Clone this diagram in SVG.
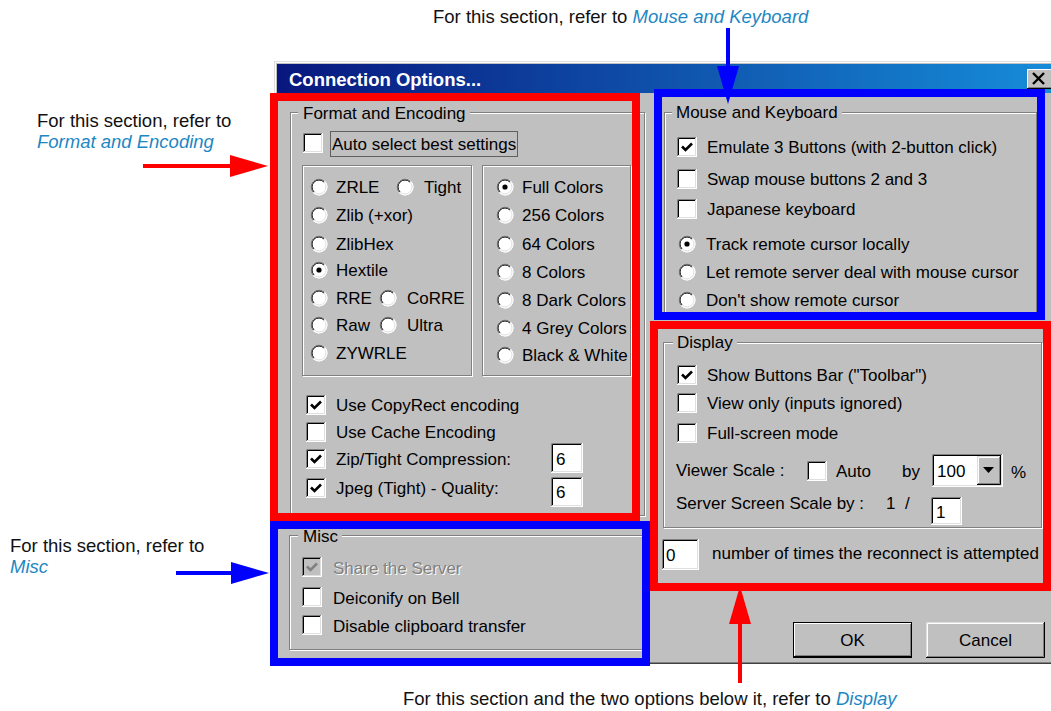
<svg xmlns="http://www.w3.org/2000/svg" width="1051" height="711" viewBox="0 0 1051 711">
<style>
.t{font-family:"Liberation Sans",Arial,sans-serif;font-size:17px;fill:#000}
.dis{fill:#808080}
.sh{fill:#fff}
.ann{font-family:"Liberation Sans",Arial,sans-serif;font-size:18.5px;fill:#111}
.lk{font-style:italic;fill:#1d87c3}
.ttl{font-family:"Liberation Sans",Arial,sans-serif;font-size:18.5px;font-weight:bold;fill:#fff}
.eg{fill:none;stroke:#808080}
.ew{fill:none;stroke:#fff}
.gap{fill:#c0c0c0}
.hr{fill:none;stroke:#f00;stroke-width:8}
.hb{fill:none;stroke:#00f;stroke-width:8}
.cr{fill:none;stroke:#f00;stroke-width:4}
.cbl{fill:none;stroke:#00f;stroke-width:4}
.ln{fill:none}
</style>
<defs>
<linearGradient id="tb" x1="0" y1="0" x2="1" y2="0">
<stop offset="0" stop-color="#08177e"/>
<stop offset="1" stop-color="#168cd8"/>
</linearGradient>
<marker id="mr" markerUnits="userSpaceOnUse" markerWidth="38" markerHeight="22" refX="8" refY="11" orient="auto"><path d="M0,0 L38,11 L0,22 z" fill="#f00"/></marker>
<marker id="mb" markerUnits="userSpaceOnUse" markerWidth="38" markerHeight="22" refX="8" refY="11" orient="auto"><path d="M0,0 L38,11 L0,22 z" fill="#00f"/></marker>
<g id="cb">
<rect width="20" height="20" fill="#fff"/>
<path d="M0.5,20 V0.5 H20" class="ln" stroke="#808080"/>
<path d="M1.5,19 V1.5 H19" class="ln" stroke="#000"/>
<path d="M0,19.5 H19.5 V0" class="ln" stroke="#fff"/>
<path d="M1,18.5 H18.5 V1" class="ln" stroke="#dfdfdf"/>
</g>
<g id="cbx">
<use href="#cb"/>
<path d="M5,9.5 L8.5,13 L15,6.5" fill="none" stroke="#000" stroke-width="2.6"/>
</g>
<g id="cbd">
<rect width="20" height="20" fill="#c0c0c0"/>
<path d="M0.5,20 V0.5 H20" class="ln" stroke="#808080"/>
<path d="M1.5,19 V1.5 H19" class="ln" stroke="#000"/>
<path d="M0,19.5 H19.5 V0" class="ln" stroke="#fff"/>
<path d="M1,18.5 H18.5 V1" class="ln" stroke="#dfdfdf"/>
<path d="M5,9.5 L8.5,13 L15,6.5" fill="none" stroke="#808080" stroke-width="2.6"/>
</g>
<g id="rb">
<circle r="8.5" fill="#fff"/>
<path d="M-5.66,5.66 A8,8 0 0 1 5.66,-5.66" class="ln" stroke="#808080"/>
<path d="M-4.95,4.95 A7,7 0 0 1 4.95,-4.95" class="ln" stroke="#000"/>
<path d="M5.66,-5.66 A8,8 0 0 1 -5.66,5.66" class="ln" stroke="#fff"/>
<path d="M4.95,-4.95 A7,7 0 0 1 -4.95,4.95" class="ln" stroke="#dfdfdf"/>
</g>
<g id="rbs">
<use href="#rb"/>
<circle r="2.6" fill="#000"/>
</g>
</defs>

<rect width="1051" height="711" fill="#fff"/>

<g id="dialog">
<rect x="274" y="61" width="790" height="603" fill="#c0c0c0"/>
<path d="M274.5,664 V61.5 H1051" class="ln" stroke="#dfdfdf"/>
<path d="M275.5,663 V62.5 H1051" class="ln" stroke="#fff"/>
<path d="M274,663.5 H1051" class="ln" stroke="#404040"/>
<path d="M276,662.5 H1051" class="ln" stroke="#808080"/>
<rect x="277" y="64" width="774" height="29" fill="url(#tb)"/>
<text class="ttl" x="289" y="86">Connection Options...</text>
<g id="close-btn">
<rect x="1027" y="69" width="24" height="20" fill="#c0c0c0"/>
<path d="M1027.5,89 V69.5 H1051" class="ln" stroke="#fff"/>
<path d="M1027,88.5 H1051" class="ln" stroke="#000"/>
<path d="M1028,87.5 H1051" class="ln" stroke="#808080"/>
<path d="M1033,73 L1044,84 M1044,73 L1033,84" stroke="#000" stroke-width="2.4"/>
</g>
</g>

<g id="format-encoding">
<rect x="291.5" y="113.5" width="354" height="403" class="ew"/>
<rect x="290.5" y="112.5" width="354" height="403" class="eg"/>
<rect x="298" y="106" width="172" height="12" class="gap"/>
<text class="t" x="303" y="119">Format and Encoding</text>
<use href="#cb" x="303" y="133"/>
<rect x="330.5" y="131.5" width="187" height="25" fill="none" stroke="#000" stroke-dasharray="1,1"/>
<text class="t" x="332" y="150">Auto select best settings</text>

<rect x="303.5" y="166.5" width="169" height="210" class="ew"/>
<rect x="302.5" y="165.5" width="169" height="210" class="eg"/>
<rect x="483.5" y="166.5" width="148" height="210" class="ew"/>
<rect x="482.5" y="165.5" width="148" height="210" class="eg"/>

<use href="#rb" x="319" y="187"/><text class="t" x="336" y="193">ZRLE</text>
<use href="#rb" x="405" y="187"/><text class="t" x="424" y="193">Tight</text>
<use href="#rb" x="319" y="215"/><text class="t" x="336" y="221">Zlib (+xor)</text>
<use href="#rb" x="319" y="244"/><text class="t" x="336" y="250">ZlibHex</text>
<use href="#rbs" x="319" y="270"/><text class="t" x="336" y="276">Hextile</text>
<use href="#rb" x="319" y="298"/><text class="t" x="336" y="304">RRE</text>
<use href="#rb" x="388" y="298"/><text class="t" x="407" y="304">CoRRE</text>
<use href="#rb" x="319" y="325"/><text class="t" x="336" y="331">Raw</text>
<use href="#rb" x="388" y="325"/><text class="t" x="407" y="331">Ultra</text>
<use href="#rb" x="319" y="353"/><text class="t" x="336" y="359">ZYWRLE</text>

<use href="#rbs" x="505" y="187"/><text class="t" x="522" y="193">Full Colors</text>
<use href="#rb" x="505" y="215"/><text class="t" x="522" y="221">256 Colors</text>
<use href="#rb" x="505" y="244"/><text class="t" x="522" y="250">64 Colors</text>
<use href="#rb" x="505" y="272"/><text class="t" x="522" y="278">8 Colors</text>
<use href="#rb" x="505" y="300"/><text class="t" x="522" y="306">8 Dark Colors</text>
<use href="#rb" x="505" y="328"/><text class="t" x="522" y="334">4 Grey Colors</text>
<use href="#rb" x="505" y="355"/><text class="t" x="522" y="361">Black &amp; White</text>

<use href="#cbx" x="306" y="395"/><text class="t" x="336" y="411">Use CopyRect encoding</text>
<use href="#cb" x="306" y="422"/><text class="t" x="336" y="438">Use Cache Encoding</text>
<use href="#cbx" x="306" y="449"/><text class="t" x="336" y="465">Zip/Tight Compression:</text>
<use href="#cbx" x="306" y="478"/><text class="t" x="336" y="494">Jpeg (Tight) - Quality:</text>

<rect x="551" y="443" width="32" height="30" fill="#fff"/>
<path d="M551.5,473 V443.5 H583" class="ln" stroke="#808080"/>
<path d="M552.5,472 V444.5 H582" class="ln" stroke="#000"/>
<path d="M551,472.5 H582.5 V443" class="ln" stroke="#fff"/>
<path d="M552,471.5 H581.5 V444" class="ln" stroke="#dfdfdf"/>
<text class="t" x="556" y="465">6</text>
<rect x="551" y="477" width="32" height="30" fill="#fff"/>
<path d="M551.5,507 V477.5 H583" class="ln" stroke="#808080"/>
<path d="M552.5,506 V478.5 H582" class="ln" stroke="#000"/>
<path d="M551,506.5 H582.5 V477" class="ln" stroke="#fff"/>
<path d="M552,505.5 H581.5 V478" class="ln" stroke="#dfdfdf"/>
<text class="t" x="556" y="498">6</text>
</g>

<g id="misc">
<rect x="290.5" y="536.5" width="353" height="114" class="ew"/>
<rect x="289.5" y="535.5" width="353" height="114" class="eg"/>
<rect x="298" y="529" width="44" height="12" class="gap"/>
<text class="t" x="303" y="542">Misc</text>
<use href="#cbd" x="302" y="557"/>
<text class="t sh" x="334" y="575">Share the Server</text>
<text class="t dis" x="333" y="574">Share the Server</text>
<use href="#cb" x="302" y="587"/><text class="t" x="333" y="604">Deiconify on Bell</text>
<use href="#cb" x="302" y="615"/><text class="t" x="333" y="632">Disable clipboard transfer</text>
</g>

<g id="mouse-keyboard">
<rect x="665.5" y="113.5" width="372" height="200" class="ew"/>
<rect x="664.5" y="112.5" width="372" height="200" class="eg"/>
<rect x="672" y="106" width="170" height="12" class="gap"/>
<text class="t" x="676" y="118">Mouse and Keyboard</text>
<use href="#cbx" x="677" y="137"/><text class="t" x="707" y="153">Emulate 3 Buttons (with 2-button click)</text>
<use href="#cb" x="677" y="169"/><text class="t" x="707" y="185">Swap mouse buttons 2 and 3</text>
<use href="#cb" x="677" y="199"/><text class="t" x="707" y="215">Japanese keyboard</text>
<use href="#rbs" x="687" y="244"/><text class="t" x="706" y="250">Track remote cursor locally</text>
<use href="#rb" x="687" y="272"/><text class="t" x="706" y="278">Let remote server deal with mouse cursor</text>
<use href="#rb" x="687" y="300"/><text class="t" x="706" y="306">Don't show remote cursor</text>
</g>

<g id="display">
<rect x="664.5" y="343.5" width="378" height="185" class="ew"/>
<rect x="663.5" y="342.5" width="378" height="185" class="eg"/>
<rect x="673" y="336" width="64" height="12" class="gap"/>
<text class="t" x="677" y="348">Display</text>
<use href="#cbx" x="677" y="365"/><text class="t" x="707" y="381">Show Buttons Bar ("Toolbar")</text>
<use href="#cb" x="677" y="393"/><text class="t" x="707" y="409">View only (inputs ignored)</text>
<use href="#cb" x="677" y="423"/><text class="t" x="707" y="439">Full-screen mode</text>
<text class="t" x="676" y="476">Viewer Scale :</text>
<use href="#cb" x="807" y="461"/>
<text class="t" x="836" y="477">Auto</text>
<text class="t" x="902" y="477">by</text>
<g id="scale-combo">
<rect x="932" y="454" width="71" height="33" fill="#fff"/>
<path d="M932.5,487 V454.5 H1003" class="ln" stroke="#808080"/>
<path d="M933.5,486 V455.5 H1002" class="ln" stroke="#000"/>
<path d="M932,486.5 H1002.5 V454" class="ln" stroke="#fff"/>
<path d="M933,485.5 H1001.5 V455" class="ln" stroke="#dfdfdf"/>
<text class="t" x="937" y="477">100</text>
<rect x="977" y="456" width="24" height="29" fill="#c0c0c0"/>
<path d="M977.5,485 V456.5 H1001" class="ln" stroke="#dfdfdf"/>
<path d="M978.5,484 V457.5 H1000" class="ln" stroke="#fff"/>
<path d="M977,484.5 H1000.5 V456" class="ln" stroke="#000"/>
<path d="M978,483.5 H999.5 V457" class="ln" stroke="#808080"/>
<path d="M983,467 H994 L988.5,473 z" fill="#000"/>
</g>
<text class="t" x="1011" y="478">%</text>
<text class="t" x="676" y="509">Server Screen Scale by :</text>
<text class="t" x="886" y="509">1</text>
<text class="t" x="905" y="509">/</text>
<rect x="931" y="497" width="31" height="28" fill="#fff"/>
<path d="M931.5,525 V497.5 H962" class="ln" stroke="#808080"/>
<path d="M932.5,524 V498.5 H961" class="ln" stroke="#000"/>
<path d="M931,524.5 H961.5 V497" class="ln" stroke="#fff"/>
<path d="M932,523.5 H960.5 V498" class="ln" stroke="#dfdfdf"/>
<text class="t" x="936" y="518">1</text>
<rect x="662" y="539" width="37" height="31" fill="#fff"/>
<path d="M662.5,570 V539.5 H699" class="ln" stroke="#808080"/>
<path d="M663.5,569 V540.5 H698" class="ln" stroke="#000"/>
<path d="M662,569.5 H698.5 V539" class="ln" stroke="#fff"/>
<path d="M663,568.5 H697.5 V540" class="ln" stroke="#dfdfdf"/>
<text class="t" x="666" y="561">0</text>
<text class="t" x="712" y="559">number of times the reconnect is attempted</text>
</g>

<g id="buttons">
<g id="ok-btn">
<rect x="793.5" y="622.5" width="118" height="35" fill="#c0c0c0" stroke="#000"/>
<path d="M794.5,656 V623.5 H911" class="ln" stroke="#fff"/>
<path d="M794,656.5 H911.5 V623" class="ln" stroke="#000"/>
<path d="M795,655.5 H910.5 V624" class="ln" stroke="#808080"/>
<text class="t" x="852.5" y="646" text-anchor="middle">OK</text>
</g>
<g id="cancel-btn">
<rect x="926" y="622" width="119" height="36" fill="#c0c0c0"/>
<path d="M926.5,658 V622.5 H1045" class="ln" stroke="#dfdfdf"/>
<path d="M927.5,657 V623.5 H1044" class="ln" stroke="#fff"/>
<path d="M926,657.5 H1044.5 V622" class="ln" stroke="#000"/>
<path d="M927,656.5 H1043.5 V623" class="ln" stroke="#808080"/>
<text class="t" x="985.5" y="646" text-anchor="middle">Cancel</text>
</g>
</g>

<g id="highlight-format"><rect x="274" y="97" width="362" height="420" class="hr"/></g>
<g id="highlight-misc"><rect x="274" y="525" width="372" height="137" class="hb"/></g>
<g id="highlight-mouse"><rect x="658" y="93" width="383" height="223" class="hb"/></g>
<g id="highlight-display"><rect x="654" y="325" width="393" height="262" class="hr"/></g>

<g id="label-mouse"><text class="ann" x="433" y="23">For this section, refer to <tspan class="lk">Mouse and Keyboard</tspan></text></g>
<g id="label-format"><text class="ann" x="37" y="127">For this section, refer to</text><text class="ann lk" x="37" y="148">Format and Encoding</text></g>
<g id="label-misc"><text class="ann" x="10" y="552">For this section, refer to</text><text class="ann lk" x="10" y="573">Misc</text></g>
<g id="label-display"><text class="ann" x="403" y="705">For this section and the two options below it, refer to <tspan class="lk">Display</tspan></text></g>

<g id="connectors">
<path d="M728,28 V74" class="cbl" marker-end="url(#mb)"/>
<path d="M143,166 H238" class="cr" marker-end="url(#mr)"/>
<path d="M176,573 H239" class="cbl" marker-end="url(#mb)"/>
<path d="M740,683 V616" class="cr" marker-end="url(#mr)"/>
</g>
</svg>
